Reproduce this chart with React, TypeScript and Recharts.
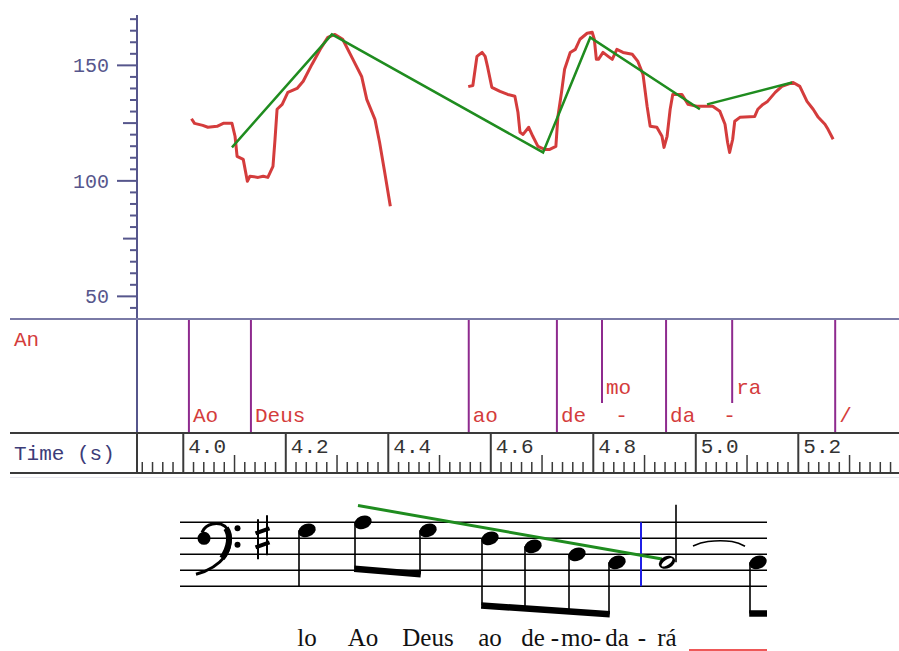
import React from 'react';
import { ComposedChart, Line, Scatter, XAxis, YAxis, ReferenceLine } from 'recharts';

// time window shown in the pitch panel (s)
const T_MIN = 3.9097;
const T_MAX = 5.3965;

// pitch track, [time s, Hz]
const pitchFirst: [number, number][] = [
  [4.016, 126.9], [4.022, 124.9], [4.038, 124.0], [4.048, 123.2], [4.066, 123.6], [4.078, 124.9],
  [4.095, 124.9], [4.101, 119.3], [4.105, 110.6], [4.117, 109.3], [4.125, 99.8], [4.13, 102.0],
  [4.146, 101.5], [4.156, 102.0], [4.165, 101.5], [4.175, 106.3], [4.179, 118.0], [4.183, 131.0],
  [4.193, 133.1], [4.204, 138.3], [4.222, 140.0], [4.234, 143.1], [4.251, 150.4], [4.267, 156.9],
  [4.282, 162.1], [4.296, 163.4], [4.311, 161.3], [4.331, 152.6], [4.348, 145.2], [4.358, 135.3],
  [4.374, 126.6], [4.383, 116.7], [4.393, 103.7], [4.404, 89.0],
];
const pitchSecond: [number, number][] = [
  [4.556, 140.8], [4.565, 141.3], [4.573, 153.9], [4.583, 155.6], [4.589, 153.9], [4.594, 149.1],
  [4.602, 140.5], [4.618, 138.7], [4.633, 137.4], [4.647, 136.6], [4.653, 129.7], [4.657, 121.0],
  [4.663, 120.1], [4.674, 123.2], [4.682, 119.3], [4.692, 114.9], [4.705, 113.6], [4.715, 113.6],
  [4.727, 114.9], [4.731, 127.9], [4.738, 138.3], [4.744, 148.3], [4.755, 155.6], [4.765, 156.9],
  [4.774, 161.3], [4.788, 163.9], [4.798, 164.3], [4.802, 161.3], [4.806, 152.6], [4.81, 152.6],
  [4.819, 155.6], [4.829, 153.9], [4.837, 152.6], [4.846, 156.9], [4.858, 155.6], [4.876, 154.8],
  [4.887, 151.7], [4.897, 146.1], [4.905, 132.3], [4.911, 123.6], [4.924, 123.2], [4.934, 119.3],
  [4.938, 114.5], [4.944, 119.3], [4.95, 131.0], [4.955, 137.4], [4.973, 137.4], [4.985, 133.1],
  [5.002, 132.3], [5.033, 132.3], [5.047, 130.1], [5.057, 124.5], [5.062, 116.7], [5.066, 112.3],
  [5.072, 118.0], [5.076, 125.8], [5.086, 127.5], [5.115, 127.9], [5.121, 131.0], [5.131, 133.1],
  [5.14, 134.4], [5.155, 138.3], [5.168, 140.9], [5.19, 142.6], [5.203, 140.9], [5.217, 134.4],
  [5.229, 131.0], [5.239, 127.5], [5.252, 124.5], [5.258, 122.3], [5.268, 118.0],
];
// stylised contour
const styleFirst: [number, number][] = [[4.095, 114.5], [4.29, 163.4], [4.702, 112.3], [4.794, 162.1], [5.008, 131.0]];
const styleSecond: [number, number][] = [[5.022, 133.1], [5.188, 142.6]];

const hzTicks = [45, 50, 55, 60, 65, 70, 75, 80, 85, 90, 95, 100, 105, 110, 115, 120, 125, 130, 135, 140, 145, 150, 155, 160, 165, 170];
const hzLabels = [50, 100, 150];

// annotation tier
const boundaries = [
  { t: 4.011, full: true }, { t: 4.132, full: true }, { t: 4.557, full: true }, { t: 4.729, full: true },
  { t: 4.817, full: false }, { t: 4.942, full: true }, { t: 5.071, full: false }, { t: 5.272, full: true },
];
const tierLabels = [
  { t: 4.011, text: 'Ao', row: 'low' }, { t: 4.132, text: 'Deus', row: 'low' }, { t: 4.557, text: 'ao', row: 'low' },
  { t: 4.729, text: 'de', row: 'low' }, { t: 4.817, text: 'mo', row: 'high' }, { t: 4.835, text: '-', row: 'low' },
  { t: 4.942, text: 'da', row: 'low' }, { t: 5.046, text: '-', row: 'low' }, { t: 5.071, text: 'ra', row: 'high' },
  { t: 5.272, text: '/', row: 'low' },
];
const timeLabels = ['4.0', '4.2', '4.4', '4.6', '4.8', '5.0', '5.2'];

// score: horizontal slot along the staff, staff step (0 = bottom line), note value, lyric
const noteSlots = [127, 183, 248, 310, 353, 397, 437, 487, 578];
const noteSteps = [7, 8, 7, 6, 5, 4, 3, 3, 3];
const noteKinds = ['q', 'e', 'e', 'e', 'e', 'e', 'e', 'h', 'q'];
const lyrics = ['lo', 'Ao', 'Deus', 'ao', 'de', 'mo', 'da', 'rá', ''];
const hyphenAfter = [4, 5, 6];
const beams = [
  { notes: [1, 2], steps: [2.2, 1.5] },
  { notes: [3, 4, 5, 6], steps: [-2.4, -3.5] },
];
const scoreTrend = [{ x: 178, y: 10.1 }, { x: 482, y: 3.4 }];
const tieCurve = [{ x: 513, y: 5.05 }, { x: 528, y: 5.6 }, { x: 552, y: 5.6 }, { x: 565, y: 5.0 }];

const NAVY = '#56568c';
const RED = '#d43c3c';
const GREEN = '#1f8c1f';
const PURPLE = '#8e2a8e';
const MONO = '"Liberation Mono", "DejaVu Sans Mono", monospace';
const SERIF = '"Liberation Serif", "DejaVu Serif", serif';

const S_MIN = -8.09;
const S_MAX = 13.54;

const toPts = (arr: [number, number][]) => arr.map(([t, hz]) => ({ t, hz }));

const HzTick = (props: any) => {
  const { x, y, payload } = props;
  const v = payload.value;
  const len = v % 50 === 0 ? 20 : v % 25 === 0 ? 14 : 7;
  return (
    <g>
      <line x1={x - len} x2={x} y1={y} y2={y} stroke={NAVY} strokeWidth={2} />
      {hzLabels.includes(v) && (
        <text x={x - 28} y={y + 7} textAnchor="end" fill={NAVY} fontFamily={MONO} fontSize={20}>{v}</text>
      )}
    </g>
  );
};

const timeTicks: number[] = [];
for (let i = 196; i <= 269; i++) timeTicks.push(i / 50);

const TimeTick = (props: any) => {
  const { x, y, payload } = props;
  const k = Math.round(payload.value * 50);
  const label = timeLabels.find((l) => Math.round(parseFloat(l) * 50) === k);
  if (label) {
    return (
      <g>
        <line x1={x} x2={x} y1={y} y2={y + 40} stroke="#3a3a3a" strokeWidth={2} />
        <text x={x + 5} y={y + 20} fill="#333" fontFamily={MONO} fontSize={21}>{label}</text>
      </g>
    );
  }
  const len = k % 5 === 0 ? 18 : 11;
  return <line x1={x} x2={x} y1={y + 40 - len} y2={y + 40} stroke="#3a3a3a" strokeWidth={1.5} />;
};

const TierText = (props: any) => {
  const { cx, cy, payload } = props;
  return <text x={cx + 4} y={cy} fill={RED} fontFamily={MONO} fontSize={21}>{payload.text}</text>;
};

const NoteHead = (props: any) => {
  const { cx, cy, payload } = props;
  if (payload.kind === 'h') {
    return (
      <g transform={`rotate(-25 ${cx} ${cy})`}>
        <ellipse cx={cx} cy={cy} rx={8.5} ry={6} fill="#000" />
        <ellipse cx={cx} cy={cy} rx={6.5} ry={2.6} fill="#fff" transform={`rotate(-10 ${cx} ${cy})`} />
      </g>
    );
  }
  return <ellipse cx={cx} cy={cy} rx={9} ry={6.5} fill="#000" transform={`rotate(-22 ${cx} ${cy})`} />;
};

const LyricText = (props: any) => {
  const { cx, cy, payload } = props;
  return <text x={cx} y={cy} textAnchor="middle" fill="#111" fontFamily={SERIF} fontSize={25}>{payload.text}</text>;
};

const BassClef = (props: any) => {
  const { cx, cy } = props;
  return (
    <g transform={`translate(${cx},${cy})`} fill="#000" stroke="#000">
      <circle cx={0} cy={0} r={6.5} stroke="none" />
      <path d="M -2,-6 C 2,-15 14,-17 21,-12 C 28,-6 28,8 21,18 C 14,27 3,33 -8,36" fill="none" strokeWidth={3} />
      <path d="M 22,-10 C 27,-3 26,9 18,20" fill="none" strokeWidth={6} />
      <circle cx={33.5} cy={-10} r={3} stroke="none" />
      <circle cx={33.5} cy={6.5} r={3} stroke="none" />
    </g>
  );
};

const Sharp = (props: any) => {
  const { cx, cy } = props;
  return (
    <g stroke="#000">
      <line x1={cx - 4.5} x2={cx - 4.5} y1={cy - 19} y2={cy + 21} strokeWidth={2} />
      <line x1={cx + 4.5} x2={cx + 4.5} y1={cy - 23} y2={cy + 17} strokeWidth={2} />
      <line x1={cx - 7} x2={cx + 7} y1={cy - 5} y2={cy - 10} strokeWidth={4} />
      <line x1={cx - 7} x2={cx + 7} y1={cy + 9} y2={cy + 4} strokeWidth={4} />
    </g>
  );
};

const stemX = (i: number) => (noteKinds[i] === 'h' ? noteSlots[i] + 9 : noteSlots[i] - 8);

function buildStems() {
  const stems: { x: number; from: number; to: number }[] = [];
  noteSlots.forEach((_, i) => {
    const beam = beams.find((b) => b.notes.includes(i));
    let to: number;
    if (beam) {
      const x1 = stemX(beam.notes[0]);
      const x2 = stemX(beam.notes[beam.notes.length - 1]);
      to = beam.steps[0] + ((stemX(i) - x1) / (x2 - x1)) * (beam.steps[1] - beam.steps[0]);
    } else if (noteKinds[i] === 'h') {
      to = noteSteps[i] + 7.2;
    } else if (i === noteSlots.length - 1) {
      to = -3.4;
    } else {
      to = noteSteps[i] - 7;
    }
    stems.push({ x: stemX(i), from: noteSteps[i], to });
  });
  return stems;
}

export default function App() {
  const stems = buildStems();
  const heads = noteSlots.map((x, i) => ({ x, y: noteSteps[i], kind: noteKinds[i] }));
  const LYRIC_STEP = -7.46;
  const lyricPts = noteSlots.map((x, i) => ({ x, y: LYRIC_STEP, text: lyrics[i] })).filter((d) => d.text);
  const hyphens = hyphenAfter.map((i) => ({ x: (noteSlots[i] + noteSlots[i + 1]) / 2, y: LYRIC_STEP, text: '-' }));
  const lastStem = stemX(noteSlots.length - 1);
  const tierPts = tierLabels.map((d) => ({ x: d.t, y: d.row === 'low' ? 0.099 : 0.342, text: d.text }));

  return (
    <div style={{ position: 'relative', width: 899, height: 651, background: '#fff', overflow: 'hidden' }}>
      <style>{'body{margin:0}'}</style>

      {/* pitch panel */}
      <div style={{ position: 'absolute', left: 0, top: 0 }}>
        <ComposedChart width={899} height={320} margin={{ top: 15, right: 0, bottom: 1, left: 0 }}>
          <XAxis type="number" dataKey="t" domain={[T_MIN, T_MAX]} allowDataOverflow hide />
          <YAxis
            type="number"
            dataKey="hz"
            domain={[40.2, 171.8]}
            allowDataOverflow
            width={137}
            ticks={hzTicks}
            interval={0}
            tickSize={0}
            tickMargin={0}
            tickLine={false}
            axisLine={{ stroke: NAVY, strokeWidth: 2 }}
            tick={(p: any) => <HzTick {...p} />}
          />
          <Line data={toPts(pitchFirst)} dataKey="hz" stroke={RED} strokeWidth={3} dot={false} isAnimationActive={false} strokeLinejoin="round" />
          <Line data={toPts(pitchSecond)} dataKey="hz" stroke={RED} strokeWidth={3} dot={false} isAnimationActive={false} strokeLinejoin="round" />
          <Line data={toPts(styleFirst)} dataKey="hz" stroke={GREEN} strokeWidth={2.5} dot={false} isAnimationActive={false} />
          <Line data={toPts(styleSecond)} dataKey="hz" stroke={GREEN} strokeWidth={2.5} dot={false} isAnimationActive={false} />
        </ComposedChart>
      </div>

      {/* annotation tier + time ruler */}
      <div style={{ position: 'absolute', left: 0, top: 319 }}>
        <ComposedChart width={899} height={154} margin={{ top: 0, right: 0, bottom: 0, left: 0 }}>
          <XAxis
            type="number"
            dataKey="x"
            domain={[T_MIN, T_MAX]}
            allowDataOverflow
            height={40}
            ticks={timeTicks}
            interval={0}
            tickSize={0}
            tickMargin={0}
            tickLine={false}
            axisLine={false}
            tick={(p: any) => <TimeTick {...p} />}
          />
          <YAxis type="number" dataKey="y" domain={[0, 1]} width={137} tick={false} tickLine={false} axisLine={{ stroke: NAVY, strokeWidth: 2 }} />
          {boundaries.map((b, i) =>
            b.full ? (
              <ReferenceLine key={i} x={b.t} stroke={PURPLE} strokeWidth={2} />
            ) : (
              <ReferenceLine key={i} segment={[{ x: b.t, y: 1 }, { x: b.t, y: 0.263 }]} stroke={PURPLE} strokeWidth={2} />
            )
          )}
          <Scatter data={tierPts} shape={(p: any) => <TierText {...p} />} isAnimationActive={false} />
        </ComposedChart>
      </div>

      <div style={{ position: 'absolute', left: 10, top: 318, width: 889, height: 2, background: '#7a7aa6' }} />
      <div style={{ position: 'absolute', left: 10, top: 432, width: 889, height: 2, background: '#3a3a3a' }} />
      <div style={{ position: 'absolute', left: 10, top: 472, width: 889, height: 2, background: '#3a3a3a' }} />
      <div style={{ position: 'absolute', left: 10, top: 477, width: 889, height: 1, background: '#e6e6ee' }} />
      <div style={{ position: 'absolute', left: 136, top: 433, width: 2, height: 40, background: '#3a3a3a' }} />
      <div style={{ position: 'absolute', left: 14, top: 330, fontFamily: MONO, fontSize: 21, lineHeight: '21px', color: RED }}>An</div>
      <div style={{ position: 'absolute', left: 14, top: 444, fontFamily: MONO, fontSize: 21, lineHeight: '21px', color: '#3c3c78', whiteSpace: 'pre' }}>Time (s)</div>

      {/* score */}
      <div style={{ position: 'absolute', left: 0, top: 478 }}>
        <ComposedChart width={899} height={173} margin={{ top: 0, right: 132, bottom: 0, left: 180 }}>
          <XAxis type="number" dataKey="x" domain={[0, 587]} allowDataOverflow hide />
          <YAxis type="number" dataKey="y" domain={[S_MIN, S_MAX]} allowDataOverflow hide />
          {[0, 2, 4, 6, 8].map((s) => (
            <ReferenceLine key={s} y={s} stroke="#000" strokeWidth={1.5} />
          ))}
          {stems.map((s, i) => (
            <ReferenceLine key={`st${i}`} segment={[{ x: s.x, y: s.from }, { x: s.x, y: s.to }]} stroke="#000" strokeWidth={1.6} />
          ))}
          {beams.map((b, i) => (
            <ReferenceLine
              key={`bm${i}`}
              segment={[{ x: stemX(b.notes[0]) - 0.8, y: b.steps[0] }, { x: stemX(b.notes[b.notes.length - 1]) + 0.8, y: b.steps[1] }]}
              stroke="#000"
              strokeWidth={6.5}
            />
          ))}
          <ReferenceLine segment={[{ x: lastStem - 0.8, y: -3.4 }, { x: 587, y: -3.4 }]} stroke="#000" strokeWidth={6.5} />
          <ReferenceLine segment={[{ x: 461, y: 0 }, { x: 461, y: 8 }]} stroke="#1f1fe6" strokeWidth={2} />
          <ReferenceLine segment={[{ x: 509, y: -7.95 }, { x: 587, y: -7.95 }]} stroke="#e82020" strokeWidth={1.5} />
          <Scatter data={[{ x: 24, y: 6 }]} shape={(p: any) => <BassClef {...p} />} isAnimationActive={false} />
          <Scatter data={[{ x: 82.5, y: 6 }]} shape={(p: any) => <Sharp {...p} />} isAnimationActive={false} />
          <Scatter data={heads} shape={(p: any) => <NoteHead {...p} />} isAnimationActive={false} />
          <Line data={tieCurve} dataKey="y" type="natural" stroke="#000" strokeWidth={1.6} dot={false} isAnimationActive={false} />
          <Line data={scoreTrend} dataKey="y" stroke={GREEN} strokeWidth={3} dot={false} isAnimationActive={false} />
          <Scatter data={lyricPts} shape={(p: any) => <LyricText {...p} />} isAnimationActive={false} />
          <Scatter data={hyphens} shape={(p: any) => <LyricText {...p} />} isAnimationActive={false} />
        </ComposedChart>
      </div>
    </div>
  );
}
